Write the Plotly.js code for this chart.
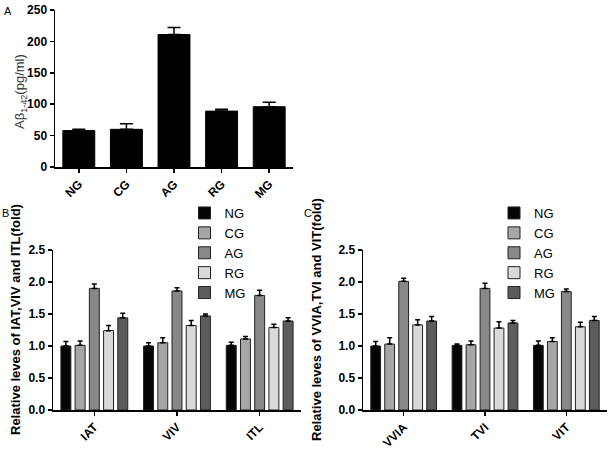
<!DOCTYPE html>
<html>
<head>
<meta charset="utf-8">
<script src="https://cdn.plot.ly/plotly-3.0.1.min.js"></script>
<style>
  html, body { margin: 0; padding: 0; background: #fff; }
  #plot { width: 610px; height: 454px; }
</style>
</head>
<body>
<div id="plot"></div>
<script>
// panel A: A-beta 1-42 levels
const groupsA = ['NG', 'CG', 'AG', 'RG', 'MG'];
const valuesA = [58, 60, 211, 89, 96];
const errorsA = [2, 9, 11, 3, 7];

// panel B: IAT, VIV, ITL
const catsB = ['IAT', 'VIV', 'ITL'];
// panel C: VVIA, TVI, VIT
const catsC = ['VVIA', 'TVI', 'VIT'];

const seriesNames = ['NG', 'CG', 'AG', 'RG', 'MG'];
const seriesColors = ['#050505', '#a6a6a6', '#888888', '#dadada', '#5c5c5c'];

const valuesB = [
  [1.00, 1.00, 1.01],   // NG
  [1.01, 1.05, 1.11],   // CG
  [1.90, 1.86, 1.79],   // AG
  [1.24, 1.32, 1.29],   // RG
  [1.44, 1.47, 1.39]    // MG
];
const errorsB = [
  [0.07, 0.05, 0.05],
  [0.07, 0.08, 0.04],
  [0.07, 0.05, 0.08],
  [0.08, 0.08, 0.05],
  [0.07, 0.03, 0.05]
];

const valuesC = [
  [1.00, 1.01, 1.01],
  [1.03, 1.02, 1.07],
  [2.01, 1.90, 1.85],
  [1.33, 1.28, 1.30],
  [1.39, 1.36, 1.40]
];
const errorsC = [
  [0.07, 0.02, 0.07],
  [0.10, 0.06, 0.06],
  [0.05, 0.08, 0.04],
  [0.08, 0.10, 0.07],
  [0.07, 0.04, 0.06]
];

const FONT = 'Liberation Sans, Arial, sans-serif';

function upErr(arr, capw) {
  return {
    type: 'data', symmetric: false, array: arr,
    arrayminus: arr.map(() => 0),
    color: '#000', thickness: 1.5, width: capw
  };
}

const data = [];

data.push({
  type: 'bar', x: groupsA, y: valuesA, width: 0.67,
  xaxis: 'x', yaxis: 'y', showlegend: false,
  marker: { color: '#000', line: { color: '#000', width: 1 } },
  error_y: upErr(errorsA, 6.5)
});

seriesNames.forEach((name, i) => {
  data.push({
    type: 'bar', name: name, x: catsB, y: valuesB[i],
    xaxis: 'x2', yaxis: 'y2', legend: 'legend',
    marker: { color: seriesColors[i], line: { color: '#222', width: 1 } },
    error_y: upErr(errorsB[i], 2.5)
  });
});

seriesNames.forEach((name, i) => {
  data.push({
    type: 'bar', name: name, x: catsC, y: valuesC[i],
    xaxis: 'x3', yaxis: 'y3', legend: 'legend2',
    marker: { color: seriesColors[i], line: { color: '#222', width: 1 } },
    error_y: upErr(errorsC[i], 2.5)
  });
});

const W = 610, H = 454;
const px = v => v / W;
const py = v => 1 - v / H;

const xBase = {
  showline: true, linecolor: '#000', linewidth: 1.5,
  ticks: 'outside', ticklen: 4, tickcolor: '#000', tickwidth: 1.5,
  tickangle: -45, showgrid: false, zeroline: false, fixedrange: true,
  tickfont: { family: FONT, size: 12, color: '#000', weight: 'bold' }
};
const yBase = {
  showline: true, linecolor: '#000', linewidth: 1.5,
  ticks: 'outside', ticklen: 4, tickcolor: '#000', tickwidth: 1.5,
  showgrid: false, zeroline: false, fixedrange: true,
  tickfont: { family: FONT, size: 12, color: '#000', weight: 'bold' }
};

const legendBase = {
  font: { family: FONT, size: 13, color: '#000' },
  bgcolor: 'rgba(0,0,0,0)', xanchor: 'left', yanchor: 'top',
  tracegroupgap: 0, itemwidth: 30
};

const labelFont = { family: FONT, size: 11, color: '#000' };
const yTitleFont = { family: FONT, size: 13, color: '#000', weight: 'bold' };

const layout = {
  width: W, height: H,
  margin: { l: 0, r: 0, t: 0, b: 0 },
  paper_bgcolor: '#fff', plot_bgcolor: '#fff',
  barmode: 'group', bargap: 0.14, bargroupgap: 0.3,
  font: { family: FONT, color: '#000' },
  xaxis: Object.assign({}, xBase, { domain: [px(55), px(293)], anchor: 'y' }),
  yaxis: Object.assign({}, yBase, {
    domain: [py(167), py(10)], anchor: 'x', range: [0, 250], dtick: 50
  }),
  xaxis2: Object.assign({}, xBase, { domain: [px(53), px(301)], anchor: 'y2' }),
  yaxis2: Object.assign({}, yBase, {
    domain: [py(410), py(250)], anchor: 'x2', range: [0, 2.5], dtick: 0.5, tickformat: '.1f'
  }),
  xaxis3: Object.assign({}, xBase, { domain: [px(363), px(607)], anchor: 'y3' }),
  yaxis3: Object.assign({}, yBase, {
    domain: [py(410), py(250)], anchor: 'x3', range: [0, 2.5], dtick: 0.5, tickformat: '.1f'
  }),
  legend: Object.assign({}, legendBase, { x: px(184.5), y: py(198) }),
  legend2: Object.assign({}, legendBase, { x: px(494), y: py(198) }),
  annotations: [
    { text: 'A', x: px(2), y: py(11), xref: 'paper', yref: 'paper', showarrow: false,
      xanchor: 'left', yanchor: 'middle', font: labelFont },
    { text: 'B', x: px(0), y: py(213), xref: 'paper', yref: 'paper', showarrow: false,
      xanchor: 'left', yanchor: 'middle', font: labelFont },
    { text: 'C', x: px(302), y: py(213), xref: 'paper', yref: 'paper', showarrow: false,
      xanchor: 'left', yanchor: 'middle', font: labelFont },
    // y titles, placed where the original has them
    { text: 'Aβ<sub>1-42</sub>(pg/ml)', x: px(20), y: py(92),
      xref: 'paper', yref: 'paper', showarrow: false, textangle: -90,
      xanchor: 'center', yanchor: 'middle', font: { family: FONT, size: 13, color: '#333' } },
    { text: 'Relative leves of IAT,VIV and ITL(fold)', x: px(15), y: py(320),
      xref: 'paper', yref: 'paper', showarrow: false, textangle: -90,
      xanchor: 'center', yanchor: 'middle', font: yTitleFont },
    { text: 'Relative leves of VVIA,TVI and VIT(fold)', x: px(316), y: py(320),
      xref: 'paper', yref: 'paper', showarrow: false, textangle: -90,
      xanchor: 'center', yanchor: 'middle', font: yTitleFont }
  ]
};

Plotly.newPlot('plot', data, layout, { displayModeBar: false, staticPlot: true });
</script>
</body>
</html>
